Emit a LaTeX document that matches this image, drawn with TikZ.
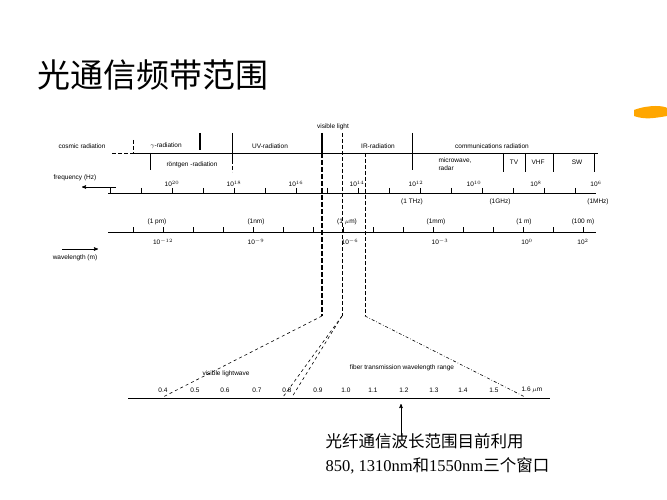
\documentclass[tikz,border=0pt]{standalone}
\usepackage{fontspec}
\setmainfont{Liberation Serif}
\newfontfamily\cjk{Noto Sans CJK SC}
\newfontfamily\lab{Liberation Sans}
\usetikzlibrary{positioning, arrows}
\tikzset{>=stealth', tick/.style={font=\lab\fontsize{6.5}{7.5}\selectfont, inner sep=1pt}}

\begin{document}
\begin{tikzpicture}[x=1pt, y=-1pt, line width=0.6pt,
    thick dash/.style={line width=2pt, dash pattern=on 5pt off 2pt},
    thin dash/.style={dash pattern=on 4pt off 2pt}]
    \useasboundingbox (0,0) rectangle (667,500);
    % title
    \node[anchor=west, font=\cjk\fontsize{33}{38}\selectfont] (title) at (34,75) {光通信频带范围};
    \fill[orange!70!yellow] (634,110) .. controls (650,104) and (665,106) .. (667,108) -- (667,116) .. controls (655,118) and (645,120) .. (634,116) -- cycle;

    % radiation band
    \draw[thin dash] (112,153) -- (132,153);
    \draw (132,153) -- (598,153);
    \node[tick] (cosmic) at (82,146) {cosmic radiation};
    \node[tick] (gamma) at (166,146) {$\gamma$-radiation};
    \node[tick] (uv) at (270,146) {UV-radiation};
    \node[tick] (vis) at (333,127) {visible light};
    \node[tick] (ir) at (378,146) {IR-radiation};
    \node[tick] (comm) at (492,146) {communications radiation};
    \node[tick] (xray) at (192,165) {röntgen -radiation};
    \node[tick, align=left] (micro) at (455,164) {microwave,\\radar};
    \node[tick] (tv) at (514,162) {TV};
    \node[tick] (vhf) at (538,162) {VHF};
    \node[tick] (sw) at (577,162) {SW};
    \draw[thin dash] (133,140) -- (133,153);
    \draw[line width=2pt] (200,133) -- (200,150);
    \draw (232,133) -- (232,160);
    \draw[thin dash] (232,160) -- (232,172);
    \draw (150,153) -- (150,170);
    \draw (412,133) -- (412,170);
    \foreach \xx in {503,525,553,594} \draw (\xx,153) -- (\xx,172);

    % frequency axis
    \draw (108,193) -- (596,193);
    \foreach \xx in {110,141,...,596} \draw (\xx,188) -- (\xx,193);
    \node[tick] (fq) at (75,178) {frequency (Hz)};
    \draw[->] (116,187) -- (82,187);
    \foreach \xx/\ee in {172/20,234/18,296/16,357/14,416/12,474/10,536/8,596/6}
        \node[tick] (f\ee) at (\xx,184) {10$^{\ee}$};
    \node[tick] (thz) at (412,202) {(1 THz)};
    \node[tick] (ghz) at (500,202) {(1GHz)};
    \node[tick] (mhz) at (598,202) {(1MHz)};

    % wavelength axis
    \draw (108,232) -- (596,232);
    \foreach \xx in {133,163,...,596} \draw (\xx,227) -- (\xx,232);
    \foreach \xx/\txt in {157/(1 pm),256/(1nm),347/(1 $\mu$m),436/(1mm),524/(1 m),583/(100 m)}
        \node[tick] at (\xx,222) {\txt};
    \foreach \xx/\ee in {163/-12,256/-9,350/-6,440/-3,527/0,583/2}
        \node[tick] at (\xx,242) {10$^{\ee}$};
    \node[tick] (wl) at (75,258) {wavelength (m)};
    \draw[->] (62,249) -- (98,249);

    % visible and fibre band down to funnel
    \draw[line width=2.2pt] (322,133) -- (322,153);
    \draw[thick dash] (322,153) -- (322,316);
    \draw[thin dash] (342,133) -- (342,316);
    \draw[thin dash] (365,153) -- (365,316);
    \draw[dashed] (322,316) -- (163,397);
    \draw[dashed] (342,316) -- (283,397);
    \draw[dashed] (342,316) -- (292,397);
    \draw[dash dot] (365,316) -- (525,397);
    \node[tick] (vlw) at (226,374) {visible lightwave};
    \node[tick] (fib) at (402,368) {fiber transmission wavelength range};

    % micrometre axis
    \draw (128,398) -- (550,398);
    \foreach \xx/\txt in {163/0.4,195/0.5,225/0.6,257/0.7,287/0.8,318/0.9,346/1.0,373/1.1,404/1.2,434/1.3,463/1.4,494/1.5}
        \node[tick] at (\xx,390) {\txt};
    \node[tick] (um) at (532,390) {1.6 $\mu$m};

    % note
    \node[anchor=west, font=\fontsize{16.5}{24}\selectfont, align=left] (note) at (322,454)
        {{\cjk 光纤通信波长范围目前利用}\\850, 1310nm{\cjk 和}1550nm{\cjk 三个窗口}};
    \draw[->] (401,436) -- (401,404);
\end{tikzpicture}
\end{document}
